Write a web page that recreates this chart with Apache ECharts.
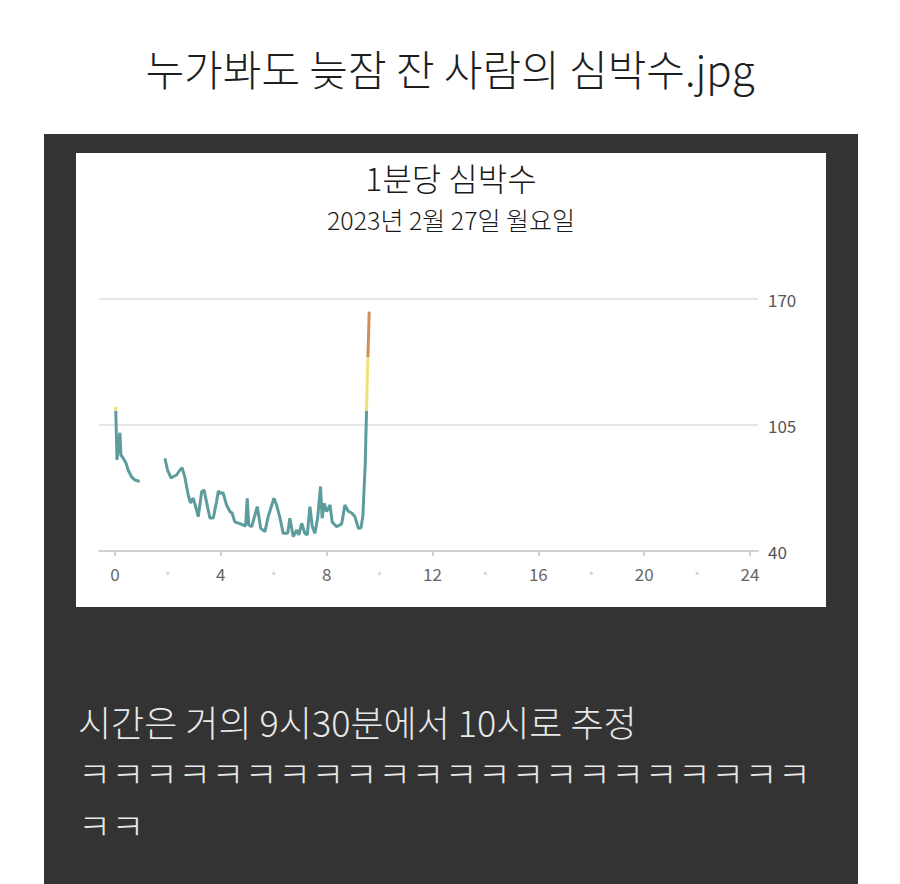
<!DOCTYPE html>
<html>
<head>
<meta charset="utf-8">
<script src="https://cdn.jsdelivr.net/npm/echarts@6/dist/echarts.min.js"></script>
<style>
  html, body { margin:0; padding:0; background:#ffffff; width:900px; height:884px; overflow:hidden; }
  body { position:relative; font-family:"Noto Sans CJK KR","Noto Sans",sans-serif; }
  #headline { position:absolute; left:0; top:38px; width:900px; text-align:center; font-size:42px; color:#1e1e1e; line-height:60px; white-space:nowrap; font-weight:300; }
  #dark { position:absolute; left:44px; top:134px; width:814px; height:750px; background:#333333; }
  #chart { position:absolute; left:76px; top:153px; width:750px; height:454px; background:#ffffff; }
  .cap { position:absolute; left:78px; font-size:36px; color:#e8e8e8; line-height:51px; white-space:nowrap; font-weight:300; }
  .kk { letter-spacing:0.2px; }
</style>
</head>
<body>
<div id="headline">누가봐도 늦잠 잔 사람의 심박수.jpg</div>
<div id="dark"></div>
<div id="chart"></div>
<div class="cap" style="top:696px;">시간은 거의 9시30분에서 10시로 추정</div>
<div class="cap kk" style="top:747px;">ㅋㅋㅋㅋㅋㅋㅋㅋㅋㅋㅋㅋㅋㅋㅋㅋㅋㅋㅋㅋㅋㅋ</div>
<div class="cap kk" style="top:799px;">ㅋㅋ</div>
<script>
// ---- data (hour of day, beats per minute) ----
const chartTitle = "1분당 심박수";
const chartSubtitle = "2023년 2월 27일 월요일";
const hours = [
  0.03, 0.08, 0.19, 0.23, 0.31, 0.42, 0.50, 0.63, 0.76, 0.88, 0.94,
  1.40,
  1.89, 1.99, 2.12, 2.20, 2.33, 2.46, 2.54, 2.65, 2.77, 2.86, 2.96, 3.05, 3.15,
  3.28, 3.37, 3.47, 3.59, 3.72, 3.84, 3.91, 3.97, 4.09, 4.22, 4.35, 4.43, 4.53,
  4.79, 4.94, 5.00, 5.06, 5.17, 5.38, 5.51, 5.67, 5.79, 6.01, 6.11, 6.24, 6.36,
  6.53, 6.61, 6.74, 6.87, 6.95, 7.06, 7.18, 7.27, 7.37, 7.46, 7.56, 7.66, 7.77,
  7.83, 7.91, 8.00, 8.13, 8.21, 8.38, 8.57, 8.69, 8.82, 8.95, 9.07, 9.20, 9.30,
  9.37, 9.46, 9.53, 9.61
];
const bpm = [
  114.4, 87, 101, 89.5, 88, 85.4, 81.8, 78.2, 76.6, 76.1, 76,
  null,
  87.8, 81.8, 77.7, 78.3, 79.2, 81.8, 83, 77.7, 68.9, 64.8, 67.3, 62.9, 57.7,
  70.6, 71.5, 64.8, 57, 57, 65.4, 71, 69.8, 70, 63.7, 60.3, 59.6, 55,
  53.7, 52.9, 67.2, 53.4, 52.6, 62.9, 51.7, 50, 57.7, 67.2, 63.7, 56.9, 49.1,
  49.1, 56.9, 47.4, 50.8, 48.3, 54.3, 49, 48.3, 62.9, 52.6, 49.1, 56.9, 73.2,
  56.9, 64.6, 60.3, 63.7, 55, 52.5, 54, 63.7, 60.5, 59.6, 57.7, 51.7, 52,
  58, 85, 125, 163.5
];
const xTickValues = [0, 4, 8, 12, 16, 20, 24];
const xLabelValues = [0, 2, 4, 6, 8, 10, 12, 14, 16, 18, 20, 22, 24];
const yTicks = [40, 105, 170];

const seriesData = hours.map((h, i) => [h, bpm[i]]);

const chart = echarts.init(document.getElementById('chart'), null, { renderer: 'svg' });
chart.setOption({
  backgroundColor: '#ffffff',
  animation: false,
  textStyle: { fontFamily: '"Noto Sans CJK KR", "Noto Sans", sans-serif' },
  title: [
    { text: chartTitle, left: 'center', top: 8, padding: 0,
      textStyle: { fontSize: 32, fontWeight: 300, color: '#1a1a1a', lineHeight: 32 } },
    { text: chartSubtitle, left: 'center', top: 53, padding: 0,
      textStyle: { fontSize: 25, fontWeight: 300, color: '#1a1a1a', lineHeight: 25 } }
  ],
  grid: { left: 23, right: 68, top: 146, bottom: 56, containLabel: false },
  xAxis: {
    type: 'value', min: -0.6, max: 24.3,
    axisLine: { show: true, lineStyle: { color: '#d2d2d2', width: 2 } },
    axisTick: { show: true, customValues: xTickValues, length: 5, lineStyle: { color: '#d2d2d2', width: 2 } },
    axisLabel: {
      customValues: xLabelValues, margin: 14, fontSize: 17, color: '#666666',
      formatter: v => (v % 4 === 0 ? String(v) : '{d|•}'),
      rich: { d: { color: '#d6d6d6', fontSize: 12 } }
    },
    splitLine: { show: false }
  },
  yAxis: {
    type: 'value', position: 'right', min: 40, max: 170, interval: 65,
    axisLine: { show: false }, axisTick: { show: false },
    axisLabel: { margin: 10, fontSize: 17, color: '#555555' },
    splitLine: { show: true, lineStyle: { color: '#dcdcdc', width: 1.5 } }
  },
  visualMap: {
    show: false, type: 'piecewise', dimension: 1, seriesIndex: 0,
    pieces: [
      { lt: 112, color: '#5c9c9c' },
      { gte: 112, lt: 140, color: '#ece277' },
      { gte: 140, color: '#cf8e55' }
    ]
  },
  series: [{
    type: 'line', data: seriesData, showSymbol: false, connectNulls: false,
    smooth: false, lineStyle: { width: 3 }
  }]
});
</script>
</body>
</html>
